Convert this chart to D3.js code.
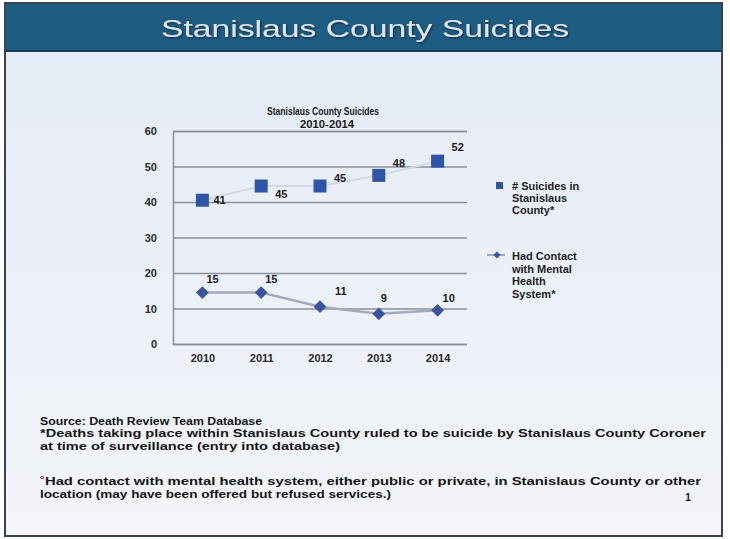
<!DOCTYPE html>
<html>
<head>
<meta charset="utf-8">
<script src="https://cdn.jsdelivr.net/npm/d3@7"></script>
<style>
  body { margin: 0; background: #fff; }
  svg { display: block; }
  text { font-family: "Liberation Sans", Arial, sans-serif; }
</style>
</head>
<body>
<div id="chart"></div>
<script>
const years = ['2010', '2011', '2012', '2013', '2014'];
const suicides = [40.5, 44.5, 44.5, 47.5, 51.5];
const suicideLabels = ['41', '45', '45', '48', '52'];
const contact = [14.5, 14.5, 10.5, 8.5, 9.5];
const contactLabels = ['15', '15', '11', '9', '10'];
const yTicks = [0, 10, 20, 30, 40, 50, 60];

const width = 730;
const height = 539;
const plot = {left: 173, right: 467, top: 131, bottom: 344};

const svg = d3.select('#chart')
  .append('svg')
  .attr('width', width)
  .attr('height', height);

const defs = svg.append('defs');
const grad = defs.append('linearGradient')
  .attr('id', 'bodyGrad')
  .attr('x1', 0).attr('y1', 0).attr('x2', 0).attr('y2', 1);
grad.append('stop').attr('offset', '0%').attr('stop-color', '#e4ebf6');
grad.append('stop').attr('offset', '100%').attr('stop-color', '#f3f5f9');

const shadow = defs.append('filter').attr('id', 'shadow');
shadow.append('feDropShadow')
  .attr('dx', 1).attr('dy', 1).attr('stdDeviation', 1)
  .attr('flood-color', '#0a2235').attr('flood-opacity', 0.9);

// slide frame
svg.append('rect')
  .attr('x', 5).attr('y', 3)
  .attr('width', 717).attr('height', 533)
  .attr('fill', 'url(#bodyGrad)')
  .attr('stroke', '#3a4450')
  .attr('stroke-width', 2);

svg.append('rect')
  .attr('x', 6).attr('y', 4)
  .attr('width', 715).attr('height', 47)
  .attr('fill', '#1f5c82');

svg.append('line')
  .attr('x1', 6).attr('x2', 721)
  .attr('y1', 51).attr('y2', 51)
  .attr('stroke', '#18405c')
  .attr('stroke-width', 2);

svg.append('text')
  .attr('x', 365).attr('y', 37)
  .attr('text-anchor', 'middle')
  .attr('font-size', 24)
  .attr('fill', '#dde6ee')
  .attr('filter', 'url(#shadow)')
  .attr('textLength', 408)
  .attr('lengthAdjust', 'spacingAndGlyphs')
  .text('Stanislaus County Suicides');

// chart
const x = d3.scalePoint()
  .domain(years)
  .range([plot.left, plot.right])
  .padding(0.5);

const y = d3.scaleLinear()
  .domain([0, 60])
  .range([plot.bottom, plot.top]);

const chart = svg.append('g');

chart.append('text')
  .attr('x', 323).attr('y', 115)
  .attr('text-anchor', 'middle')
  .attr('font-size', 11)
  .attr('font-weight', 'bold')
  .attr('fill', '#1a1a1a')
  .attr('textLength', 112)
  .attr('lengthAdjust', 'spacingAndGlyphs')
  .text('Stanislaus County Suicides');

chart.append('text')
  .attr('x', 327).attr('y', 128)
  .attr('text-anchor', 'middle')
  .attr('font-size', 11)
  .attr('font-weight', 'bold')
  .attr('fill', '#1a1a1a')
  .attr('textLength', 54)
  .attr('lengthAdjust', 'spacingAndGlyphs')
  .text('2010-2014');

const yAxis = chart.append('g')
  .attr('transform', `translate(${plot.left}, 0)`)
  .call(d3.axisLeft(y).tickValues(yTicks).tickSize(-(plot.right - plot.left)).tickPadding(16));
yAxis.select('.domain').attr('stroke', '#8a8f98').attr('stroke-width', 1.5);
yAxis.selectAll('.tick line').attr('stroke', '#8a8f98').attr('stroke-width', 1.5);
yAxis.selectAll('.tick text')
  .attr('font-size', 11)
  .attr('font-weight', 'bold')
  .attr('fill', '#2a2a2a');

const xAxis = chart.append('g')
  .attr('transform', `translate(0, ${plot.bottom})`)
  .call(d3.axisBottom(x).tickSize(0).tickPadding(10));
xAxis.select('.domain').remove();
xAxis.selectAll('.tick text')
  .attr('font-size', 11)
  .attr('font-weight', 'bold')
  .attr('fill', '#2a2a2a');

const line = d3.line()
  .x((d, i) => x(years[i]))
  .y(d => y(d));

chart.append('path')
  .datum(suicides)
  .attr('fill', 'none')
  .attr('stroke', '#d3d9e4')
  .attr('stroke-width', 2)
  .attr('d', line);

chart.append('path')
  .datum(contact)
  .attr('fill', 'none')
  .attr('stroke', '#a4abb8')
  .attr('stroke-width', 2.5)
  .attr('d', line);

chart.selectAll('.sq')
  .data(suicides)
  .join('rect')
  .attr('class', 'sq')
  .attr('x', (d, i) => x(years[i]) - 6.5)
  .attr('y', d => y(d) - 6.5)
  .attr('width', 13)
  .attr('height', 13)
  .attr('fill', '#2f55a6');

chart.selectAll('.dm')
  .data(contact)
  .join('path')
  .attr('class', 'dm')
  .attr('transform', (d, i) => `translate(${x(years[i])}, ${y(d)}) rotate(45)`)
  .attr('d', 'M-4.5,-4.5H4.5V4.5H-4.5Z')
  .attr('fill', '#3b53a0');

const sOffsets = [[11, 4], [14, 12], [14, -4], [14, -8], [14, -10]];
chart.selectAll('.slab')
  .data(suicides)
  .join('text')
  .attr('class', 'slab')
  .attr('x', (d, i) => x(years[i]) + sOffsets[i][0])
  .attr('y', (d, i) => y(d) + sOffsets[i][1])
  .attr('font-size', 11)
  .attr('font-weight', 'bold')
  .attr('fill', '#1a1a1a')
  .text((d, i) => suicideLabels[i]);

const cOffsets = [[4, -10], [4, -10], [15, -12], [2, -12], [5, -8]];
chart.selectAll('.clab')
  .data(contact)
  .join('text')
  .attr('class', 'clab')
  .attr('x', (d, i) => x(years[i]) + cOffsets[i][0])
  .attr('y', (d, i) => y(d) + cOffsets[i][1])
  .attr('font-size', 11)
  .attr('font-weight', 'bold')
  .attr('fill', '#1a1a1a')
  .text((d, i) => contactLabels[i]);

// legend
const legend = chart.append('g');
legend.append('rect')
  .attr('x', 496).attr('y', 182)
  .attr('width', 7).attr('height', 7)
  .attr('fill', '#2f55a6');
legend.selectAll('.l1')
  .data(['# Suicides in', 'Stanislaus', 'County*'])
  .join('text')
  .attr('x', 512)
  .attr('y', (d, i) => 190 + i * 12)
  .attr('font-size', 11)
  .attr('font-weight', 'bold')
  .attr('fill', '#1e1e1e')
  .text(d => d);

legend.append('line')
  .attr('x1', 487).attr('x2', 505)
  .attr('y1', 255).attr('y2', 255)
  .attr('stroke', '#a4abb8')
  .attr('stroke-width', 2);
legend.append('path')
  .attr('transform', 'translate(497, 255) rotate(45)')
  .attr('d', 'M-2.5,-2.5H2.5V2.5H-2.5Z')
  .attr('fill', '#3b53a0');
legend.selectAll('.l2')
  .data(['Had Contact', 'with Mental', 'Health', 'System*'])
  .join('text')
  .attr('x', 512)
  .attr('y', (d, i) => 260 + i * 12.5)
  .attr('font-size', 11)
  .attr('font-weight', 'bold')
  .attr('fill', '#1e1e1e')
  .text(d => d);

// footnotes
const notes = [
  {t: 'Source:  Death Review Team Database', y: 425, w: 222},
  {t: '*Deaths taking place within Stanislaus County ruled to be suicide by Stanislaus County Coroner', y: 437, w: 666},
  {t: 'at time of surveillance (entry into database)', y: 450, w: 300},
  {t: '\u02DAHad contact with mental health system, either public or private, in Stanislaus County or other', y: 485, w: 661},
  {t: 'location (may have been offered but refused services.)', y: 498, w: 351}
];
svg.selectAll('.note')
  .data(notes)
  .join('text')
  .attr('class', 'note')
  .attr('x', 40)
  .attr('y', d => d.y)
  .attr('font-size', 11)
  .attr('font-weight', 'bold')
  .attr('fill', '#161616')
  .attr('textLength', d => d.w)
  .attr('lengthAdjust', 'spacingAndGlyphs')
  .text(d => d.t);

svg.append('text')
  .attr('x', 688).attr('y', 501)
  .attr('text-anchor', 'middle')
  .attr('font-size', 10)
  .attr('font-weight', 'bold')
  .attr('fill', '#161616')
  .text('1');
</script>
</body>
</html>
